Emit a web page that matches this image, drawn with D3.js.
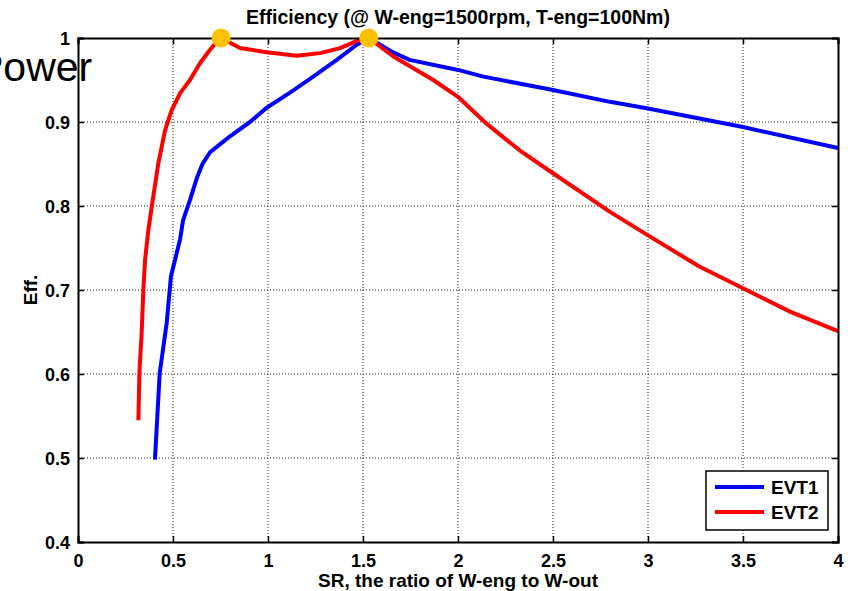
<!DOCTYPE html>
<html>
<head>
<meta charset="utf-8">
<script src="https://cdn.jsdelivr.net/npm/d3@7"></script>
<style>
  body { margin: 0; background: #fff; }
  svg text { font-family: Arial, "Liberation Sans", Helvetica, sans-serif; }
</style>
</head>
<body>
<svg id="chart" width="848" height="591"></svg>
<script>
// data
var evt1X = [0.405, 0.43, 0.467, 0.489, 0.537, 0.553, 0.589, 0.625, 0.655, 0.695, 0.75, 0.8, 0.905, 0.993, 1.116, 1.238, 1.362, 1.467, 1.53, 1.65, 1.745, 2.0, 2.134, 2.5, 2.8, 3.0, 3.5, 4.0];
var evt1Y = [0.498, 0.601, 0.661, 0.716, 0.760, 0.783, 0.807, 0.833, 0.85, 0.864, 0.874, 0.883, 0.9, 0.917, 0.935, 0.954, 0.974, 0.992, 1.0, 0.984, 0.974, 0.962, 0.954, 0.938, 0.924, 0.916, 0.894, 0.869];
var evt2X = [0.318, 0.323, 0.335, 0.344, 0.353, 0.37, 0.388, 0.423, 0.458, 0.493, 0.537, 0.589, 0.642, 0.695, 0.739, 0.753, 0.853, 0.993, 1.151, 1.274, 1.379, 1.484, 1.53, 1.66, 1.87, 2.0, 2.15, 2.326, 2.5, 2.8, 3.0, 3.27, 3.5, 3.75, 4.0];
var evt2Y = [0.545, 0.601, 0.649, 0.70, 0.736, 0.771, 0.799, 0.851, 0.89, 0.914, 0.934, 0.95, 0.97, 0.986, 0.998, 1.0, 0.988, 0.983, 0.979, 0.982, 0.988, 0.998, 1.0, 0.978, 0.95, 0.93, 0.898, 0.866, 0.839, 0.793, 0.765, 0.728, 0.702, 0.674, 0.651];
var peakX = [0.753, 1.53];
var peakY = [1.0, 1.0];
var xTicks = [0, 0.5, 1, 1.5, 2, 2.5, 3, 3.5, 4];
var yTicks = [0.4, 0.5, 0.6, 0.7, 0.8, 0.9, 1];
var seriesNames = ["EVT1", "EVT2"];
var seriesColors = ["#0000ff", "#ff0000"];

var svg = d3.select("#chart");
var pLeft = 78, pRight = 838, pTop = 38, pBottom = 542;

var x = d3.scaleLinear().domain([0, 4]).range([pLeft, pRight]);
var y = d3.scaleLinear().domain([0.4, 1]).range([pBottom, pTop]);

// "Power" text sticking out at the top left
svg.append("text")
    .attr("x", -24).attr("y", 81)
    .attr("font-size", "41px")
    .text("Power");

// grid
var grid = svg.append("g").attr("stroke", "#222").attr("stroke-width", 1).attr("stroke-dasharray", "1,2");
grid.selectAll(".gx").data(xTicks.slice(1, -1)).enter().append("line")
    .attr("x1", d => x(d)).attr("x2", d => x(d)).attr("y1", pTop).attr("y2", pBottom);
grid.selectAll(".gy").data(yTicks.slice(1, -1)).enter().append("line")
    .attr("y1", d => y(d)).attr("y2", d => y(d)).attr("x1", pLeft).attr("x2", pRight);

// curves
var line = d3.line().x(d => x(d[0])).y(d => y(d[1]));
var series = [d3.zip(evt1X, evt1Y), d3.zip(evt2X, evt2Y)];
svg.selectAll(".curve").data(series).enter().append("path")
    .attr("d", line)
    .attr("fill", "none")
    .attr("stroke", (d, i) => seriesColors[i])
    .attr("stroke-width", 4)
    .attr("stroke-linejoin", "round");

// axes, ticks inside on all four sides
var bx = svg.append("g").attr("transform", "translate(0," + pBottom + ")")
    .call(d3.axisBottom(x).tickValues(xTicks).tickSize(-6).tickPadding(12).tickFormat(d3.format("")));
var lx = svg.append("g").attr("transform", "translate(" + pLeft + ",0)")
    .call(d3.axisLeft(y).tickValues(yTicks).tickSize(-6).tickPadding(8).tickFormat(d3.format("")));
var tx = svg.append("g").attr("transform", "translate(0," + pTop + ")")
    .call(d3.axisTop(x).tickValues(xTicks).tickSize(-6).tickFormat(""));
var rx = svg.append("g").attr("transform", "translate(" + pRight + ",0)")
    .call(d3.axisRight(y).tickValues(yTicks).tickSize(-6).tickFormat(""));
[bx, lx, tx, rx].forEach(function(g) {
    g.select(".domain").attr("stroke", "#000").attr("stroke-width", 2);
    g.selectAll(".tick line").attr("stroke", "#000").attr("stroke-width", 1.5);
    g.selectAll(".tick text").attr("fill", "#000").attr("font-size", "18px")
        .attr("font-weight", "bold").attr("font-family", "Arial, 'Liberation Sans', sans-serif");
});
lx.selectAll(".tick text").attr("dy", "0.36em");

// peak markers
svg.selectAll(".peak").data(d3.zip(peakX, peakY)).enter().append("circle")
    .attr("cx", d => x(d[0])).attr("cy", d => y(d[1]))
    .attr("r", 9.5)
    .attr("fill", "#ffc000");

// titles
svg.append("text")
    .attr("x", (pLeft + pRight) / 2).attr("y", 24)
    .attr("text-anchor", "middle").attr("font-weight", "bold").attr("font-size", "19.5px")
    .text("Efficiency (@ W-eng=1500rpm, T-eng=100Nm)");
svg.append("text")
    .attr("x", (pLeft + pRight) / 2).attr("y", 587)
    .attr("text-anchor", "middle").attr("font-weight", "bold").attr("font-size", "19px")
    .text("SR, the ratio of W-eng to W-out");
svg.append("text")
    .attr("transform", "translate(37," + (pTop + pBottom) / 2 + ") rotate(-90)")
    .attr("text-anchor", "middle").attr("font-weight", "bold").attr("font-size", "19px")
    .text("Eff.");

// legend
var lg = svg.append("g").attr("transform", "translate(706,471)");
lg.append("rect").attr("width", 122).attr("height", 59)
    .attr("fill", "#fff").attr("stroke", "#000").attr("stroke-width", 1.5);
var items = lg.selectAll(".item").data(seriesNames).enter().append("g")
    .attr("transform", (d, i) => "translate(0," + (16 + i * 25) + ")");
items.append("line").attr("x1", 9).attr("x2", 58)
    .attr("stroke", (d, i) => seriesColors[i]).attr("stroke-width", 4);
items.append("text").attr("x", 65).attr("dy", "0.36em")
    .attr("font-weight", "bold").attr("font-size", "19px")
    .text(d => d);
</script>
</body>
</html>
